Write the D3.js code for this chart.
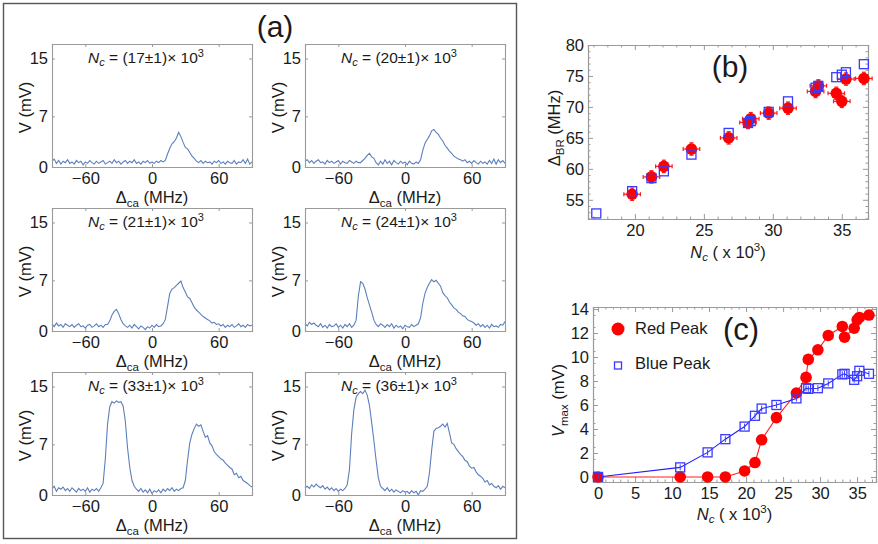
<!DOCTYPE html>
<html>
<head>
<meta charset="utf-8">
<script src="https://cdn.jsdelivr.net/npm/d3@7"></script>
<style>
  body { margin: 0; background: #fff; }
  svg { font-family: "Liberation Sans", Arial, sans-serif; }
</style>
</head>
<body>
<script>
// detuning grid for the spectra (MHz)
var detuning = d3.range(-90, 91, 2);

// panel (a) spectra, V in mV, one value per detuning step
var spec17 = [0.8,1.1,0.5,0.9,0.4,0.8,0.6,1.0,0.5,0.7,0.4,0.9,0.6,0.8,0.3,0.7,0.5,0.9,0.6,0.4,0.8,0.5,0.7,0.9,0.4,0.6,0.8,0.5,1.0,0.6,0.8,0.4,0.7,0.9,0.5,0.8,0.6,1.0,0.5,0.7,0.4,0.8,0.6,0.9,0.5,0.7,0.5,0.8,0.6,0.9,0.7,
  0.9,1.8,2.6,3.2,3.5,4.0,4.8,4.2,3.4,2.7,2.5,2.0,1.5,1.2,0.8,
  0.6,0.9,0.5,0.8,0.6,0.7,0.4,0.8,0.6,0.9,0.5,0.7,0.4,0.8,0.6,0.5,0.9,0.4,0.7,0.6,1.0,0.5,1.1,0.4,0.7];
var spec20 = [0.8,1.0,0.6,0.9,0.5,0.8,1.0,0.6,0.7,0.4,0.9,0.6,0.8,0.5,0.7,0.9,0.4,0.8,0.6,0.5,0.9,0.7,0.5,0.8,0.6,
  0.6,0.9,1.2,1.6,1.9,1.4,1.2,0.6,0.3,0.8,
  0.4,1.0,0.5,0.8,0.3,0.9,0.6,0.4,0.8,0.5,0.7,0.3,0.8,0.5,0.4,0.7,0.5,
  1.0,2.3,3.3,3.8,4.3,5.0,5.2,4.8,4.5,4.0,3.6,3.0,2.6,2.2,1.9,1.5,1.3,1.1,1.0,
  0.8,1.0,0.6,0.8,0.5,0.9,0.6,0.4,0.8,0.5,0.7,0.4,0.9,0.5,1.1,0.4,1.0,0.6,0.9,0.5];
var spec21 = [1.0,0.6,1.1,0.7,0.9,0.5,1.0,0.8,0.6,0.9,0.5,0.8,1.0,0.6,0.7,0.4,0.8,0.9,0.5,0.7,1.0,0.6,0.8,0.5,0.9,
  0.9,1.4,2.2,2.7,3.0,2.4,1.6,1.0,0.7,
  0.5,0.8,0.4,0.9,0.6,0.3,0.7,0.5,0.2,0.6,0.4,0.8,0.5,0.9,0.6,0.7,1.0,
  1.6,3.4,5.2,5.8,6.0,6.3,6.6,6.9,6.0,5.4,4.7,4.5,3.9,3.3,2.9,2.6,2.3,2.0,1.8,1.6,1.4,1.1,1.2,0.9,
  1.0,0.7,0.9,0.5,0.8,0.6,0.9,0.5,0.7,1.0,0.6,0.8,0.5,0.9,0.7,0.8];
var spec24 = [1.0,0.7,1.2,0.9,1.1,0.8,0.6,1.0,0.5,0.8,0.4,0.9,0.6,0.7,1.0,0.5,0.8,0.4,0.9,0.6,1.0,0.5,0.8,
  1.5,4.8,6.8,6.6,5.8,4.6,3.6,2.6,1.5,0.9,
  0.6,1.0,0.8,0.5,0.9,0.6,1.0,0.4,0.8,0.5,0.7,0.3,0.8,0.6,0.5,0.9,0.6,0.8,1.0,
  1.8,3.8,5.2,6.0,6.6,7.1,6.8,7.0,6.6,6.2,5.3,4.9,4.6,4.0,3.6,3.2,3.0,2.6,2.4,2.1,2.0,1.6,1.4,1.3,1.1,
  0.8,1.0,0.6,0.9,0.5,0.8,0.4,0.9,0.6,0.7,0.5,0.9,0.8,1.3];
var spec33 = [0.9,1.2,0.5,1.0,0.8,1.1,0.6,0.9,0.5,1.0,0.7,0.4,0.9,0.6,0.8,0.5,1.0,0.4,0.8,0.6,0.9,0.5,1.0,
  1.6,5.0,9.8,12.2,12.9,12.7,13.0,12.8,12.9,12.3,10.2,6.5,3.8,2.0,1.2,
  0.8,0.5,0.9,0.4,0.7,0.3,0.8,0.2,0.6,0.4,0.7,0.3,0.8,0.5,0.9,0.6,1.0,0.5,0.8,0.6,0.9,1.0,
  2.0,4.8,7.2,8.4,9.2,9.8,9.5,9.7,8.8,8.0,8.2,7.2,6.8,6.0,5.6,5.3,5.0,4.8,4.4,4.1,3.8,3.6,2.8,3.0,2.4,2.6,2.0,1.8,1.6,1.3,1.1];
var spec36 = [1.0,1.2,0.9,1.4,1.1,1.5,1.2,1.0,1.3,0.8,1.1,0.7,1.0,0.6,0.9,0.5,0.8,0.6,0.9,
  1.4,3.5,8.5,11.8,13.5,14.0,14.3,14.0,14.5,13.8,12.4,10.0,7.5,4.8,2.4,1.2,
  0.9,0.6,1.0,0.5,0.8,0.4,0.7,0.5,0.3,0.6,0.4,0.5,0.2,0.6,0.3,0.5,0.0,0.6,0.5,0.8,
  1.2,3.0,6.2,8.8,9.2,9.3,9.5,9.8,9.4,9.9,8.6,7.2,7.0,6.4,6.0,5.6,5.3,4.8,4.6,4.0,3.7,3.8,3.2,2.8,2.6,2.3,1.8,2.0,1.4,1.6,1.2,1.0,1.3,0.8,1.2,1.0];
var spectra = [spec17, spec20, spec21, spec24, spec33, spec36];
var spectraLabels = ["17", "20", "21", "24", "33", "36"];

// panel (b): blue/red peak separation vs atom number
var ncB = [19.8, 21.2, 22.1, 24.1, 26.8, 28.2, 28.4, 29.7, 31.1, 33.1, 33.3, 34.6, 35.0, 35.3, 36.6];
var deltaRed = [55.9, 58.7, 60.4, 63.2, 65.0, 67.5, 68.1, 69.0, 69.8, 72.5, 73.4, 72.2, 70.9, 74.5, 74.6];
var ncBlueB = [17.2, 19.8, 21.2, 22.1, 24.1, 26.8, 28.2, 28.4, 29.7, 31.1, 33.1, 33.3, 34.6, 35.0, 35.3, 36.6];
var deltaBlue = [52.8, 56.4, 58.5, 59.6, 62.3, 65.8, 67.4, 67.7, 69.2, 70.9, 73.1, 73.4, 74.8, 75.2, 75.6, 76.9];

// panel (c): peak heights vs atom number
var ncC = [0, 11.1, 14.8, 17.2, 19.8, 21.2, 22.1, 24.1, 26.8, 28.1, 28.4, 29.7, 31.1, 33.0, 33.3, 34.6, 35.0, 35.3, 36.6];
var vRed = [0, 0, 0, 0, 0.5, 1.2, 3.1, 4.95, 7.0, 8.3, 9.8, 10.6, 11.8, 12.55, 11.65, 12.4, 13.1, 13.3, 13.5];
var vBlue = [0, 0.8, 2.05, 3.15, 4.2, 5.1, 5.7, 6.0, 6.55, 7.4, 7.35, 7.4, 7.8, 8.55, 8.6, 8.1, 8.4, 8.85, 8.6];

var W = 878, H = 544;
var svg = d3.select("body").append("svg")
    .attr("width", W)
    .attr("height", H);

var frameColor = "#9a9a9a",
    textColor = "#1a1a1a",
    specColor = "#5c7fbd";

// Mathematica style frame: ticks pointing inward on all four sides
function frame(g, x, y, o) {
    var w = x.range()[1] - x.range()[0],
        h = y.range()[0] - y.range()[1];
    g.append("g").attr("transform", "translate(0," + h + ")")
        .call(d3.axisBottom(x).tickValues(o.xt).tickSize(-o.tl).tickPadding(5).tickFormat(d3.format("d")));
    g.append("g")
        .call(d3.axisLeft(y).tickValues(o.yt).tickSize(-o.tl).tickPadding(4).tickFormat(d3.format("d")));
    g.append("g")
        .call(d3.axisTop(x).tickValues(o.xt).tickSize(-o.tl).tickFormat(""));
    g.append("g").attr("transform", "translate(" + w + ",0)")
        .call(d3.axisRight(y).tickValues(o.yt).tickSize(-o.tl).tickFormat(""));
    if (o.xm) {
        g.append("g").attr("transform", "translate(0," + h + ")")
            .call(d3.axisBottom(x).tickValues(o.xm).tickSize(-o.tl / 2).tickFormat(""));
        g.append("g").call(d3.axisTop(x).tickValues(o.xm).tickSize(-o.tl / 2).tickFormat(""));
    }
    if (o.ym) {
        g.append("g").call(d3.axisLeft(y).tickValues(o.ym).tickSize(-o.tl / 2).tickFormat(""));
        g.append("g").attr("transform", "translate(" + w + ",0)")
            .call(d3.axisRight(y).tickValues(o.ym).tickSize(-o.tl / 2).tickFormat(""));
    }
    g.selectAll(".domain").attr("stroke", frameColor).attr("stroke-width", 1.1);
    g.selectAll(".tick line").attr("stroke", frameColor);
    g.selectAll(".tick text").attr("fill", textColor)
        .style("font-size", o.fs + "px")
        .style("font-family", "'Liberation Sans', Arial, sans-serif");
}

// ---------- panel (a) ----------
svg.append("rect")
    .attr("x", 3.5).attr("y", 3.5)
    .attr("width", 513).attr("height", 535)
    .attr("fill", "none")
    .attr("stroke", "#555")
    .attr("stroke-width", 1.4);

svg.append("text")
    .attr("x", 275).attr("y", 37)
    .attr("text-anchor", "middle")
    .style("font-size", "30px")
    .attr("fill", textColor)
    .text("(a)");

var colX = [52, 305], rowY = [44, 208, 372];
var pw = 200, ph = 123;

var xa = d3.scaleLinear().domain([-90, 90]).range([0, pw]);
var ya = d3.scaleLinear().domain([0, 17]).range([ph, 0]);

var specLine = d3.line()
    .x(function (d, i) { return xa(detuning[i]); })
    .y(function (d) { return ya(d); });

spectra.forEach(function (s, k) {
    var cx = colX[k % 2], cy = rowY[Math.floor(k / 2)];
    var g = svg.append("g").attr("transform", "translate(" + cx + "," + cy + ")");

    g.append("path")
        .attr("d", specLine(s))
        .attr("fill", "none")
        .attr("stroke", specColor)
        .attr("stroke-width", 1.1);

    frame(g, xa, ya, { xt: [-60, 0, 60], yt: [0, 7, 15], tl: 3, fs: 16.5 });

    // N_c label
    var t = g.append("text")
        .attr("x", pw / 2 - 6).attr("y", 19)
        .attr("text-anchor", "middle")
        .attr("fill", textColor)
        .style("font-size", "15.5px");
    t.append("tspan").style("font-style", "italic").text("N");
    t.append("tspan").style("font-style", "italic").style("font-size", "11px").attr("dy", 3).text("c");
    t.append("tspan").attr("dy", -3).text(" = (" + spectraLabels[k] + "±1)× 10");
    t.append("tspan").style("font-size", "11px").attr("dy", -6).text("3");

    // axis labels
    g.append("text")
        .attr("transform", "translate(-21," + (ph / 2 + 2) + ") rotate(-90)")
        .attr("text-anchor", "middle")
        .attr("fill", textColor)
        .style("font-size", "16.5px")
        .text("V (mV)");

    var xl = g.append("text")
        .attr("x", pw / 2).attr("y", ph + 36)
        .attr("text-anchor", "middle")
        .attr("fill", textColor)
        .style("font-size", "16.5px");
    xl.append("tspan").text("Δ");
    xl.append("tspan").style("font-size", "11.5px").attr("dy", 4).text("ca");
    xl.append("tspan").attr("dy", -4).text(" (MHz)");
});

// ---------- panel (b) ----------
var bx0 = 588, by0 = 45, bw = 280, bh = 174;
var gb = svg.append("g").attr("transform", "translate(" + bx0 + "," + by0 + ")");
var xb = d3.scaleLinear().domain([16.6, 36.9]).range([0, bw]);
var yb = d3.scaleLinear().domain([51.9, 80]).range([bh, 0]);

frame(gb, xb, yb, {
    xt: [20, 25, 30, 35], yt: [55, 60, 65, 70, 75, 80], tl: 5, fs: 16.5,
    xm: d3.range(17, 37).filter(function (v) { return v % 5; }),
    ym: d3.range(52, 80).filter(function (v) { return v % 5; })
});

// red error bars
var errX = 0.6, errY = 1.0;
ncB.forEach(function (n, i) {
    var px = xb(n), py = yb(deltaRed[i]);
    var e = gb.append("g").attr("stroke", "#ff1a1a").attr("stroke-width", 1.2);
    e.append("line").attr("x1", xb(n - errX)).attr("x2", xb(n + errX)).attr("y1", py).attr("y2", py);
    e.append("line").attr("x1", px).attr("x2", px).attr("y1", yb(deltaRed[i] - errY)).attr("y2", yb(deltaRed[i] + errY));
    e.append("line").attr("x1", xb(n - errX)).attr("x2", xb(n - errX)).attr("y1", py - 2).attr("y2", py + 2);
    e.append("line").attr("x1", xb(n + errX)).attr("x2", xb(n + errX)).attr("y1", py - 2).attr("y2", py + 2);
    e.append("line").attr("x1", px - 2).attr("x2", px + 2).attr("y1", yb(deltaRed[i] - errY)).attr("y2", yb(deltaRed[i] - errY));
    e.append("line").attr("x1", px - 2).attr("x2", px + 2).attr("y1", yb(deltaRed[i] + errY)).attr("y2", yb(deltaRed[i] + errY));
});

gb.selectAll("circle.red")
    .data(ncB)
    .enter().append("circle")
    .attr("cx", function (d) { return xb(d); })
    .attr("cy", function (d, i) { return yb(deltaRed[i]); })
    .attr("r", 5.8)
    .attr("fill", "#ff0000");

gb.selectAll("rect.blue")
    .data(ncBlueB)
    .enter().append("rect")
    .attr("x", function (d) { return xb(d) - 4.5; })
    .attr("y", function (d, i) { return yb(deltaBlue[i]) - 4.5; })
    .attr("width", 9).attr("height", 9)
    .attr("fill", "none")
    .attr("stroke", "#3a3aff")
    .attr("stroke-width", 1.3);

gb.append("text")
    .attr("x", 142).attr("y", 32)
    .attr("text-anchor", "middle")
    .attr("fill", textColor)
    .style("font-size", "30px")
    .text("(b)");

var bl = gb.append("text")
    .attr("transform", "translate(-28," + (bh / 2 - 4) + ") rotate(-90)")
    .attr("text-anchor", "middle")
    .attr("fill", textColor)
    .style("font-size", "16.5px");
bl.append("tspan").text("Δ");
bl.append("tspan").style("font-size", "11.5px").attr("dy", 4).text("BR");
bl.append("tspan").attr("dy", -4).text(" (MHz)");

function ncLabel(g, x, y) {
    var t = g.append("text")
        .attr("x", x).attr("y", y)
        .attr("text-anchor", "middle")
        .attr("fill", textColor)
        .style("font-size", "16.5px");
    t.append("tspan").style("font-style", "italic").text("N");
    t.append("tspan").style("font-style", "italic").style("font-size", "11.5px").attr("dy", 3).text("c");
    t.append("tspan").attr("dy", -3).text(" ( x 10");
    t.append("tspan").style("font-size", "11.5px").attr("dy", -7).text("3");
    t.append("tspan").attr("dy", 7).text(")");
}
ncLabel(gb, bw / 2, bh + 39);

// ---------- panel (c) ----------
var cx0 = 593, cy0 = 307, cw = 283, ch = 175;
var gc = svg.append("g").attr("transform", "translate(" + cx0 + "," + cy0 + ")");
var xc = d3.scaleLinear().domain([-0.68, 37.55]).range([0, cw]);
var yc = d3.scaleLinear().domain([-0.42, 14.17]).range([ch, 0]);

frame(gc, xc, yc, {
    xt: [0, 5, 10, 15, 20, 25, 30, 35], yt: [0, 2, 4, 6, 8, 10, 12, 14], tl: 5, fs: 16.5,
    xm: d3.range(0, 38).filter(function (v) { return v % 5; }),
    ym: d3.range(0.5, 14, 1)
});

var lineRed = d3.line()
    .x(function (d) { return xc(d); })
    .y(function (d, i) { return yc(vRed[i]); });
var lineBlue = d3.line()
    .x(function (d) { return xc(d); })
    .y(function (d, i) { return yc(vBlue[i]); });

gc.append("path").attr("d", lineRed(ncC))
    .attr("fill", "none").attr("stroke", "#ff2020").attr("stroke-width", 1.1);
gc.append("path").attr("d", lineBlue(ncC))
    .attr("fill", "none").attr("stroke", "#2020ff").attr("stroke-width", 1.1);

gc.selectAll("circle.red")
    .data(ncC)
    .enter().append("circle")
    .attr("cx", function (d) { return xc(d); })
    .attr("cy", function (d, i) { return yc(vRed[i]); })
    .attr("r", 5.8)
    .attr("fill", "#ff0000");

// small blue error ticks inside the squares
var errBlue = 0.25;
gc.selectAll("line.berr")
    .data(ncC)
    .enter().append("line")
    .attr("x1", function (d) { return xc(d); })
    .attr("x2", function (d) { return xc(d); })
    .attr("y1", function (d, i) { return yc(vBlue[i] - errBlue); })
    .attr("y2", function (d, i) { return yc(vBlue[i] + errBlue); })
    .attr("stroke", "#3a3aff")
    .attr("stroke-width", 1);

gc.selectAll("rect.blue")
    .data(ncC)
    .enter().append("rect")
    .attr("x", function (d) { return xc(d) - 4.5; })
    .attr("y", function (d, i) { return yc(vBlue[i]) - 4.5; })
    .attr("width", 9).attr("height", 9)
    .attr("fill", "none")
    .attr("stroke", "#3a3aff")
    .attr("stroke-width", 1.3);

// legend
gc.append("circle").attr("cx", 25).attr("cy", 22).attr("r", 6.5).attr("fill", "#ff0000");
gc.append("text").attr("x", 42).attr("y", 27).attr("fill", textColor)
    .style("font-size", "16.5px").text("Red Peak");
gc.append("rect").attr("x", 21.5).attr("y", 55).attr("width", 7).attr("height", 7)
    .attr("fill", "none").attr("stroke", "#3a3aff").attr("stroke-width", 1.3);
gc.append("text").attr("x", 42).attr("y", 62).attr("fill", textColor)
    .style("font-size", "16.5px").text("Blue Peak");

gc.append("text")
    .attr("x", 148).attr("y", 33)
    .attr("text-anchor", "middle")
    .attr("fill", textColor)
    .style("font-size", "31px")
    .text("(c)");

var cl = gc.append("text")
    .attr("transform", "translate(-29," + (ch / 2 + 6) + ") rotate(-90)")
    .attr("text-anchor", "middle")
    .attr("fill", textColor)
    .style("font-size", "16.5px");
cl.append("tspan").style("font-style", "italic").text("V");
cl.append("tspan").style("font-size", "11.5px").attr("dy", 4).text("max");
cl.append("tspan").attr("dy", -4).text(" (mV)");

ncLabel(gc, cw / 2, ch + 38);
</script>
</body>
</html>
